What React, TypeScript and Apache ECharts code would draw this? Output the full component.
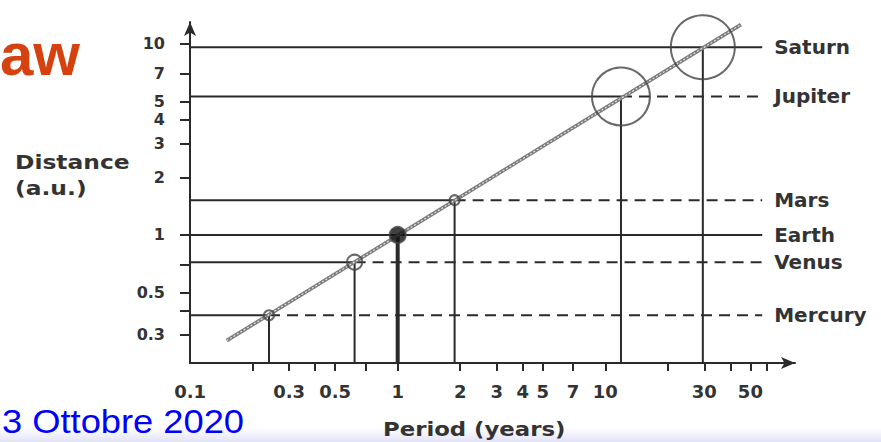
import React, { useEffect, useRef } from "react";
import * as echarts from "echarts";

// Planet data: orbital period (years) and mean distance from the Sun (a.u.)
const planetNames = ["Mercury", "Venus", "Earth", "Mars", "Jupiter", "Saturn"];
const periodYears = [0.24, 0.62, 1, 1.88, 11.9, 29.5];
const distanceAU = [0.38, 0.72, 1, 1.52, 5.3, 9.6];
const markerSize = [10, 15, 16, 10, 58, 64];
const markerFilled = [false, false, true, false, false, false];
const guideDashed = [true, true, false, true, true, false];

// Straight line of slope 2/3 on the log-log plot (T^2 ∝ a^3)
const keplerLine = [
  [0.15, 0.28],
  [45, 12.6],
];

// Axis ticks and labels
const periodTicks = [0.2, 0.3, 0.4, 0.5, 0.7, 1, 2, 3, 4, 5, 7, 10, 20, 30, 40, 50, 60];
const periodLabels = [0.1, 0.3, 0.5, 1, 2, 3, 4, 5, 7, 10, 30, 50];
const distanceTicks = [0.3, 0.4, 0.5, 0.7, 1, 2, 3, 4, 5, 7, 10];
const distanceLabels = [0.3, 0.5, 1, 2, 3, 4, 5, 7, 10];

const PERIOD_MIN = 0.0999;
const PERIOD_MAX = 82;
const DIST_MIN = 0.2138;
const DIST_MAX = 13;
const GUIDE_END = 57;

const INK = "#2a2a2a";
const TEXT = "#333333";
const FONT = '"DejaVu Sans", Verdana, sans-serif';

const fmt = (v: number) => String(+Number(v).toPrecision(4));

function buildSeries() {
  const series: any[] = [];

  // Kepler trend line, drawn as a grey beaded stroke
  series.push({
    type: "line",
    data: keplerLine,
    symbol: "none",
    silent: true,
    z: 3,
    lineStyle: { color: "#7c7c7c", width: 3.6 },
  });
  series.push({
    type: "line",
    data: keplerLine,
    symbol: "none",
    silent: true,
    z: 4,
    lineStyle: { color: "#e2e2e2", width: 1.2, type: [2, 2] },
  });

  planetNames.forEach((name, i) => {
    const t = periodYears[i];
    const a = distanceAU[i];
    // horizontal guide from the distance axis to the planet
    series.push({
      type: "line",
      data: [
        [PERIOD_MIN, a],
        [t, a],
      ],
      symbol: "none",
      silent: true,
      z: 2,
      lineStyle: { color: INK, width: 2 },
    });
    // continuation to the right, ending in the planet's name
    series.push({
      type: "line",
      name,
      data: [
        [t, a],
        [GUIDE_END, a],
      ],
      symbol: "none",
      silent: true,
      z: 2,
      lineStyle: {
        color: INK,
        width: 2,
        type: guideDashed[i] ? [11, 7] : "solid",
      },
      endLabel: {
        show: true,
        formatter: () => name,
        distance: 12,
        color: TEXT,
        fontSize: 20,
        fontWeight: "bold",
        fontFamily: FONT,
      },
    });
    // vertical drop line to the period axis
    series.push({
      type: "line",
      data: [
        [t, DIST_MIN],
        [t, a],
      ],
      symbol: "none",
      silent: true,
      z: 2,
      lineStyle: { color: INK, width: name === "Earth" ? 4 : 2 },
    });
  });

  // planet markers
  series.push({
    type: "scatter",
    z: 5,
    silent: true,
    data: planetNames.map((name, i) => ({
      name,
      value: [periodYears[i], distanceAU[i]],
      symbolSize: markerSize[i],
      itemStyle: {
        color: markerFilled[i] ? "#111" : "rgba(0,0,0,0)",
        borderColor: "#444",
        borderWidth: 2,
      },
    })),
  });

  return series;
}

const labelStyle = {
  color: TEXT,
  fontWeight: "bold" as const,
  fontFamily: FONT,
};

const option: any = {
  animation: false,
  backgroundColor: "#ffffff",
  grid: {
    left: 190,
    right: 86,
    top: 22,
    bottom: 79,
    containLabel: false,
    outerBoundsMode: "none",
  },
  xAxis: {
    type: "log",
    logBase: 10,
    min: PERIOD_MIN,
    max: PERIOD_MAX,
    axisLine: {
      show: true,
      onZero: false,
      symbol: ["none", "arrow"],
      symbolSize: [9, 14],
      lineStyle: { color: INK, width: 2 },
    },
    axisTick: {
      show: true,
      customValues: periodTicks,
      length: 8,
      lineStyle: { color: INK, width: 2 },
    },
    axisLabel: {
      show: true,
      customValues: periodLabels,
      formatter: (v: number) => fmt(v),
      margin: 20,
      fontSize: 18,
      lineHeight: 16,
      ...labelStyle,
    },
    splitLine: { show: false },
    minorTick: { show: false },
    minorSplitLine: { show: false },
  },
  yAxis: {
    type: "log",
    logBase: 10,
    min: DIST_MIN,
    max: DIST_MAX,
    axisLine: {
      show: true,
      onZero: false,
      symbol: ["none", "arrow"],
      symbolSize: [9, 14],
      lineStyle: { color: INK, width: 2 },
    },
    axisTick: {
      show: true,
      customValues: distanceTicks,
      length: 10,
      lineStyle: { color: INK, width: 2 },
    },
    axisLabel: {
      show: true,
      customValues: distanceLabels,
      formatter: (v: number) => fmt(v),
      margin: 25,
      fontSize: 16,
      lineHeight: 15,
      ...labelStyle,
    },
    splitLine: { show: false },
    minorTick: { show: false },
    minorSplitLine: { show: false },
  },
  graphic: [
    {
      type: "rect",
      z: -10,
      silent: true,
      shape: { x: 0, y: 427, width: 881, height: 15 },
      style: {
        fill: new echarts.graphic.LinearGradient(0, 0, 0, 1, [
          { offset: 0, color: "rgba(232,232,250,0)" },
          { offset: 1, color: "#e1e1f7" },
        ]),
      },
    },
    {
      type: "text",
      x: 0,
      y: 54,
      silent: true,
      style: {
        text: "aw",
        fill: "#d6420f",
        font: 'bold 60px "Liberation Sans", Arial, sans-serif',
        verticalAlign: "middle",
        align: "left",
      },
    },
    {
      type: "text",
      x: 2,
      y: 422,
      scaleX: 1.1,
      silent: true,
      style: {
        text: "3 Ottobre 2020",
        fill: "#0000ff",
        font: '33px "Liberation Sans", Arial, sans-serif',
        lineHeight: 26,
        verticalAlign: "middle",
        align: "left",
      },
    },
    {
      type: "text",
      x: 15,
      y: 162,
      scaleX: 1.17,
      silent: true,
      style: {
        text: "Distance",
        fill: TEXT,
        font: `bold 20px ${FONT}`,
        verticalAlign: "middle",
        align: "left",
      },
    },
    {
      type: "text",
      x: 15,
      y: 188,
      scaleX: 1.17,
      silent: true,
      style: {
        text: "(a.u.)",
        fill: TEXT,
        font: `bold 20px ${FONT}`,
        verticalAlign: "middle",
        align: "left",
      },
    },
    {
      type: "text",
      x: 383,
      y: 430,
      scaleX: 1.2,
      silent: true,
      style: {
        text: "Period (years)",
        fill: TEXT,
        font: `bold 19px ${FONT}`,
        verticalAlign: "middle",
        align: "left",
      },
    },
  ],
  series: buildSeries(),
};

export default function App() {
  const ref = useRef<HTMLDivElement>(null);
  useEffect(() => {
    if (!ref.current) return;
    const chart = echarts.init(ref.current, null, { renderer: "svg" });
    chart.setOption(option);
    return () => chart.dispose();
  }, []);
  return (
    <div
      ref={ref}
      style={{
        position: "fixed",
        left: 0,
        top: 0,
        width: 881,
        height: 442,
        background: "#fff",
      }}
    />
  );
}
